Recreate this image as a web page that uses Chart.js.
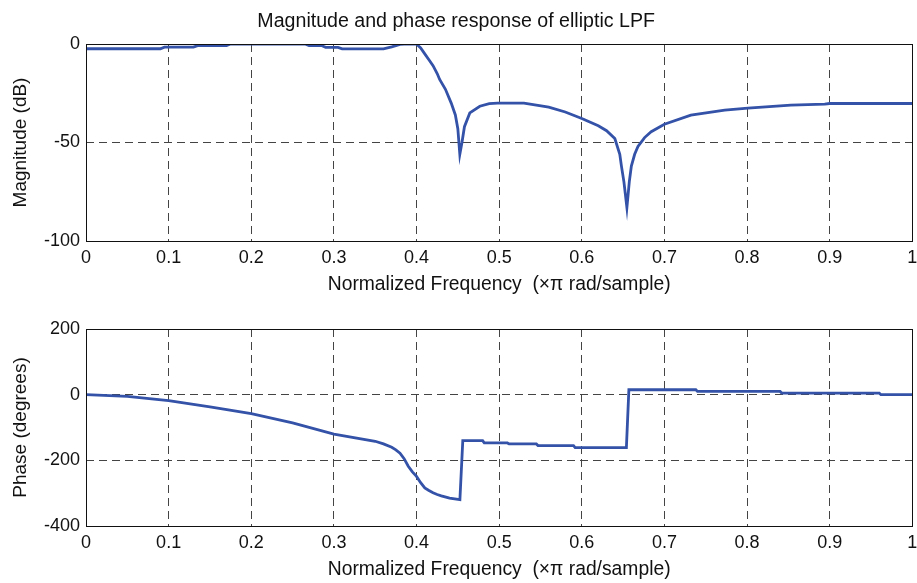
<!DOCTYPE html>
<html>
<head>
<meta charset="utf-8">
<script src="https://cdn.jsdelivr.net/npm/chart.js@4"></script>
<style>
  body { margin: 0; background: #fff; }
  .box { position: absolute; left: 0; width: 917px; }
</style>
</head>
<body>
<div class="box" style="top:0;height:300px"><canvas id="magChart" width="917" height="300"></canvas></div>
<div class="box" style="top:300px;height:283px"><canvas id="phaseChart" width="917" height="283"></canvas></div>
<script>
// normalized frequency (x pi rad/sample) and magnitude in dB
const magFreq = [0, 0.09, 0.095, 0.13, 0.135, 0.17, 0.175, 0.265, 0.27, 0.285, 0.29, 0.305, 0.31, 0.36, 0.37, 0.38, 0.385, 0.40,
    0.405, 0.41, 0.415, 0.42, 0.425, 0.428, 0.435, 0.442, 0.447, 0.45, 0.4524, 0.455, 0.458, 0.4645, 0.4766, 0.488, 0.498,
    0.53, 0.56, 0.58, 0.6, 0.62, 0.63, 0.64, 0.646, 0.648, 0.651, 0.6546, 0.6575, 0.66, 0.664, 0.668, 0.676, 0.684,
    0.70, 0.732, 0.773, 0.801, 0.853, 0.894, 0.9, 1.0]
const magDb = [-2.4, -2.4, -1.6, -1.6, -0.8, -0.8, 0, 0, -0.8, -0.8, -1.7, -1.7, -2.5, -2.5, -1.5, -0.2, 0, 0,
    -2, -5, -8, -11, -15, -18, -23, -30, -36, -43, -56, -50, -42, -35, -31.6, -30.3, -30,
    -30, -32, -34.5, -37.8, -41.5, -44, -48, -56, -62, -70, -83, -70, -62, -56, -52, -47.5, -44.5,
    -40.7, -36.1, -33.6, -32.6, -31, -30.5, -30.2, -30.2]

// phase in degrees
const phaseFreq = [0, 0.05, 0.1, 0.15, 0.2, 0.25, 0.3, 0.35, 0.36, 0.37, 0.375, 0.38, 0.385, 0.39, 0.395, 0.40, 0.405,
    0.41, 0.415, 0.42, 0.425, 0.43, 0.44, 0.4525,
    0.456, 0.48, 0.482, 0.51, 0.512, 0.545, 0.547, 0.59, 0.592, 0.654,
    0.657, 0.738, 0.74, 0.84, 0.842, 0.96, 0.962, 1.0]
const phaseDeg = [0, -5, -18, -37, -58, -86, -120, -142, -150, -160, -168, -178, -195, -218, -235, -249, -268,
    -284, -292, -299, -304, -308, -315, -320,
    -140, -140, -147, -147, -150, -150, -155, -155, -161, -161,
    15, 15, 10, 10, 5, 5, 0, 0]

const xTicks = [0, 0.1, 0.2, 0.3, 0.4, 0.5, 0.6, 0.7, 0.8, 0.9, 1]

const font = "'Liberation Sans', Arial, sans-serif"
const lineColor = "#3352a8"

function points(xs, ys) {
    return xs.map((x, i) => ({ x: x, y: ys[i] }))
}

// MATLAB-like box around the plot area
const boxPlugin = {
    id: "box",
    afterDatasetsDraw(chart) {
        const a = chart.chartArea
        const ctx = chart.ctx
        ctx.save()
        ctx.strokeStyle = "#111"
        ctx.lineWidth = 1
        ctx.setLineDash([])
        ctx.strokeRect(Math.round(a.left) + 0.5, Math.round(a.top) + 0.5,
            Math.round(a.right - a.left), Math.round(a.bottom - a.top))
        ctx.restore()
    }
}

// no dashed grid line on the box edges
function gridColor(ctx) {
    const n = ctx.scale.ticks.length
    return ctx.index === 0 || ctx.index === n - 1 ? "rgba(0,0,0,0)" : "#444"
}

function options(yLabel, yMin, yMax, yStep, title, pad) {
    const grid = {
        color: gridColor,
        lineWidth: 1,
        drawTicks: false
    }
    return {
        responsive: false,
        animation: false,
        layout: { padding: pad },
        plugins: {
            legend: { display: false },
            tooltip: { enabled: false },
            title: {
                display: !!title,
                text: title,
                color: "#111",
                font: { family: font, size: 19.6, weight: "normal" },
                padding: { top: 10, bottom: 10.48 }
            }
        },
        scales: {
            x: {
                type: "linear",
                min: 0,
                max: 1,
                afterBuildTicks(scale) {
                    scale.ticks = xTicks.map(v => ({ value: v }))
                },
                afterFit(scale) {
                    scale.height = 55.3
                    scale.paddingLeft = 0
                    scale.paddingRight = 0
                },
                ticks: {
                    padding: 6,
                    maxRotation: 0,
                    color: "#111",
                    font: { family: font, size: 18 },
                    callback: v => String(parseFloat(v.toFixed(1)))
                },
                grid: grid,
                border: { display: false, dash: [8, 5] },
                title: {
                    display: true,
                    text: "Normalized Frequency  (\u00d7\u03c0 rad/sample)",
                    color: "#111",
                    font: { family: font, size: 19.3 },
                    padding: 0
                }
            },
            y: {
                min: yMin,
                max: yMax,
                afterFit(scale) { scale.width = 86 },
                ticks: {
                    stepSize: yStep,
                    padding: 6,
                    color: "#111",
                    font: { family: font, size: 18 }
                },
                grid: grid,
                border: { display: false, dash: [8, 5] },
                title: {
                    display: true,
                    text: yLabel,
                    color: "#111",
                    font: { family: font, size: 19 },
                    padding: 9.6
                }
            }
        }
    }
}

function dataset(xs, ys) {
    return {
        datasets: [{
            data: points(xs, ys),
            borderColor: lineColor,
            borderWidth: 2.8,
            pointRadius: 0,
            tension: 0,
            fill: false
        }]
    }
}

const magChart = new Chart(
    document.getElementById("magChart"),
    {
        type: "line",
        data: dataset(magFreq, magDb),
        options: options("Magnitude (dB)", -100, 0, 50,
            "Magnitude and phase response of elliptic LPF",
            { left: 0, right: 4.7, top: 0, bottom: 3.7 }),
        plugins: [boxPlugin]
    }
)

const phaseChart = new Chart(
    document.getElementById("phaseChart"),
    {
        type: "line",
        data: dataset(phaseFreq, phaseDeg),
        options: options("Phase (degrees)", -400, 200, 200, "",
            { left: 0, right: 4.7, top: 29, bottom: 1.7 }),
        plugins: [boxPlugin]
    }
)
</script>
</body>
</html>
